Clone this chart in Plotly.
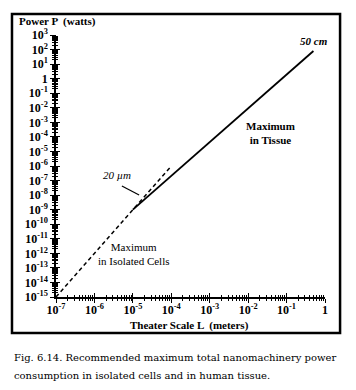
import plotly.graph_objects as go

# Data
cells_L = [1e-7, 1e-4]          # dashed: maximum in isolated cells
cells_P = [1e-15, 1e-6]
tissue_L = [1e-5, 0.5]          # solid: maximum in tissue (20 um .. 50 cm)
tissue_P = [1e-9, 80]

x_tickvals = [1e-7, 1e-6, 1e-5, 1e-4, 1e-3, 1e-2, 1e-1, 1]
x_ticktext = ["10<sup>-7</sup>", "10<sup>-6</sup>", "10<sup>-5</sup>", "10<sup>-4</sup>",
              "10<sup>-3</sup>", "10<sup>-2</sup>", "10<sup>-1</sup>", "1"]
y_exps = list(range(3, -16, -1))
y_tickvals = [10.0 ** e for e in y_exps]
y_ticktext = ["1" if e == 0 else f"10<sup>{e}</sup>" for e in y_exps]

SERIF = "Liberation Serif"

fig = go.Figure()
fig.add_trace(go.Scatter(x=cells_L, y=cells_P, mode="lines",
                         line=dict(color="black", width=1.5, dash="4px,3px"),
                         showlegend=False, hoverinfo="skip"))
fig.add_trace(go.Scatter(x=tissue_L, y=tissue_P, mode="lines",
                         line=dict(color="black", width=1.8),
                         showlegend=False, hoverinfo="skip"))

axis_common = dict(type="log", showgrid=False, zeroline=False, automargin=False,
                   showline=True, linecolor="black", linewidth=1.5,
                   ticks="outside", ticklen=4, tickwidth=1.3, tickcolor="black",
                   minor=dict(ticks="outside", ticklen=2, tickwidth=1, tickcolor="black", dtick="D1"))

fig.update_layout(
    width=356, height=390,
    margin=dict(l=56, r=31, t=35, b=93),
    paper_bgcolor="white", plot_bgcolor="white",
    xaxis=dict(range=[-7, 0], tickvals=x_tickvals, ticktext=x_ticktext, ticklabelstandoff=-3,
               tickfont=dict(family=SERIF, size=12, color="black", weight="bold"),
               **axis_common),
    yaxis=dict(range=[-15, 3], tickvals=y_tickvals, ticktext=y_ticktext,
               tickfont=dict(family=SERIF, size=12, color="black", weight="bold"),
               **axis_common),
    xaxis2=dict(type="log", range=[-7, 0], overlaying="x", showticklabels=False,
                showgrid=False, zeroline=False, tickvals=x_tickvals, automargin=False,
                ticks="inside", ticklen=4, tickwidth=1.3, tickcolor="black",
                minor=dict(ticks="inside", ticklen=2, tickwidth=1, tickcolor="black", dtick="D1"),
                side="bottom", anchor="y"),
    yaxis2=dict(type="log", range=[-15, 3], overlaying="y", showticklabels=False,
                showgrid=False, zeroline=False, tickvals=y_tickvals, automargin=False,
                ticks="inside", ticklen=4, tickwidth=1.3, tickcolor="black",
                minor=dict(ticks="inside", ticklen=2, tickwidth=1, tickcolor="black", dtick="D1"),
                side="left", anchor="x"),
)
# dummy trace to activate overlay axes
fig.add_trace(go.Scatter(x=[1e-7], y=[1e-15], xaxis="x2", yaxis="y2", mode="markers",
                         marker=dict(opacity=0), showlegend=False, hoverinfo="skip"))

# frame
fig.add_shape(type="rect", xref="paper", yref="paper",
              x0=-0.1636, x1=1.056, y0=-0.137, y1=1.080,
              line=dict(color="black", width=2.5), fillcolor="rgba(0,0,0,0)")
# pointer for 20 um
fig.add_shape(type="line", xref="paper", yref="paper",
              x0=0.245, y0=0.424, x1=0.309, y1=0.389,
              line=dict(color="black", width=1.2))

ann = [
    dict(text="<b>Power P  (watts)</b>", x=-0.145, y=(297 - 21) / 262, xanchor="left", yanchor="middle",
         xref="paper", yref="paper", font=dict(family=SERIF, size=11)),
    dict(text="<b>Theater Scale L  (meters)</b>", x=0.498, y=(297 - 325) / 262, xanchor="center", yanchor="middle",
         xref="paper", yref="paper", font=dict(family=SERIF, size=11)),
    dict(text="<b><i>50 cm</i></b>", x=-0.28, y=2.6, xref="x", yref="y",
         font=dict(family=SERIF, size=11)),
    dict(text="<b>Maximum<br>in Tissue</b>", x=-1.43, y=-3.74, xref="x", yref="y",
         font=dict(family=SERIF, size=11)),
    dict(text="Maximum<br>in Isolated Cells", x=-4.97, y=-12.05, xref="x", yref="y",
         font=dict(family=SERIF, size=11)),
    dict(text="<i>20 µm</i>", x=-5.41, y=-6.62, xref="x", yref="y",
         font=dict(family=SERIF, size=11)),
    dict(text="Fig. 6.14. Recommended maximum total nanomachinery power",
         x=-0.1636, y=(297 - 358) / 262, xref="paper", yref="paper", xanchor="left", yanchor="middle",
         align="left", font=dict(family="DejaVu Serif", size=10)),
    dict(text="consumption in isolated cells and in human tissue.",
         x=-0.1636, y=(297 - 375) / 262, xref="paper", yref="paper", xanchor="left", yanchor="middle",
         align="left", font=dict(family="DejaVu Serif", size=10)),
]
for a in ann:
    a.setdefault("showarrow", False)
    a["font"]["color"] = "black"
    fig.add_annotation(**a)

fig.write_html("out.html", config={"displayModeBar": False},
               post_script="document.body.style.margin='0';")
